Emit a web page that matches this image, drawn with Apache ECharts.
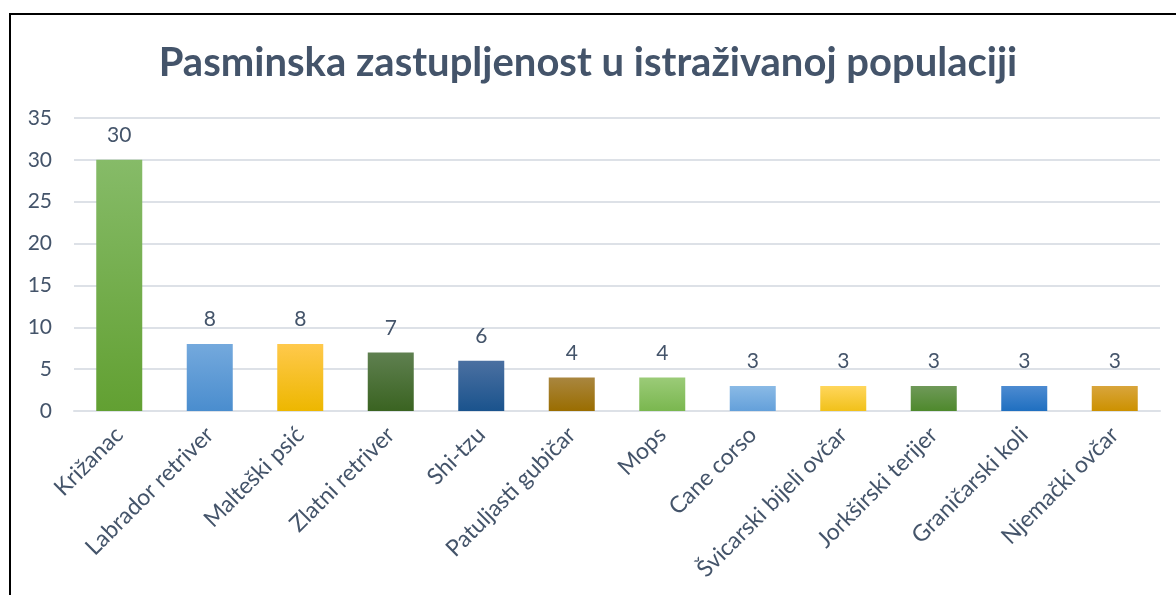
<!DOCTYPE html>
<html>
<head>
<meta charset="utf-8">
<script src="https://cdn.jsdelivr.net/npm/echarts@6/dist/echarts.min.js"></script>
<style>
  html, body { margin: 0; padding: 0; background: #fff; }
  #chart { width: 1176px; height: 595px; }
</style>
</head>
<body>
<div id="chart"></div>
<script>
// podaci
var categories = ['Križanac', 'Labrador retriver', 'Malteški psić', 'Zlatni retriver', 'Shi-tzu',
  'Patuljasti gubičar', 'Mops', 'Cane corso', 'Švicarski bijeli ovčar', 'Jorkširski terijer',
  'Graničarski koli', 'Njemački ovčar'];
var counts = [30, 8, 8, 7, 6, 4, 4, 3, 3, 3, 3, 3];
var yTicks = [0, 5, 10, 15, 20, 25, 30, 35];

// boje stupaca (vrh -> dno)
var topColors = ['#86BB68', '#74A9DD', '#FFC94C', '#5F8050', '#4B70A1', '#A9863F',
  '#9BCB78', '#8ABAE6', '#FFD65C', '#6F9959', '#4D8BD1', '#D9A53C'];
var bottomColors = ['#62A032', '#4A8DCE', '#EDB700', '#3A6321', '#1A538D', '#9A6D00',
  '#7AB74F', '#64A0DA', '#F1C11A', '#4E892C', '#1F6FC0', '#CC9100'];

var textColor = '#44546A';
var font = 'Lato';

var myChart = echarts.init(document.getElementById('chart'));

var barData = counts.map(function (v, i) {
  return {
    value: v,
    itemStyle: {
      color: new echarts.graphic.LinearGradient(0, 0, 0, 1, [
        { offset: 0, color: topColors[i] },
        { offset: 1, color: bottomColors[i] }
      ])
    }
  };
});

var option = {
  backgroundColor: '#fff',
  animation: false,
  title: {
    text: 'Pasminska zastupljenost u istraživanoj populaciji',
    left: 'center',
    top: 38,
    textStyle: { color: textColor, fontSize: 40, fontWeight: 'bold', fontFamily: font }
  },
  graphic: [{
    type: 'rect',
    shape: { x: 10, y: 14, width: 1180, height: 600 },
    style: { fill: 'none', stroke: '#000', lineWidth: 2 }
  }],
  grid: { left: 74, right: 16, top: 118, bottom: 184 },
  xAxis: {
    type: 'category',
    data: categories,
    axisLine: { lineStyle: { color: '#DDE1E7', width: 2 } },
    axisTick: { show: false },
    axisLabel: { rotate: 45, color: textColor, fontSize: 23, fontFamily: font, margin: 20, interval: 0 }
  },
  yAxis: {
    type: 'value',
    min: yTicks[0],
    max: yTicks[yTicks.length - 1],
    interval: 5,
    axisLine: { show: false },
    axisTick: { show: false },
    splitLine: { lineStyle: { color: '#DDE1E7', width: 2 } },
    axisLabel: { color: textColor, fontSize: 21, fontFamily: font, margin: 22 }
  },
  series: [{
    type: 'bar',
    data: barData,
    barWidth: 46,
    label: { show: true, position: 'top', distance: 14, color: textColor, fontSize: 21, fontFamily: font }
  }]
};

myChart.setOption(option);
</script>
</body>
</html>
